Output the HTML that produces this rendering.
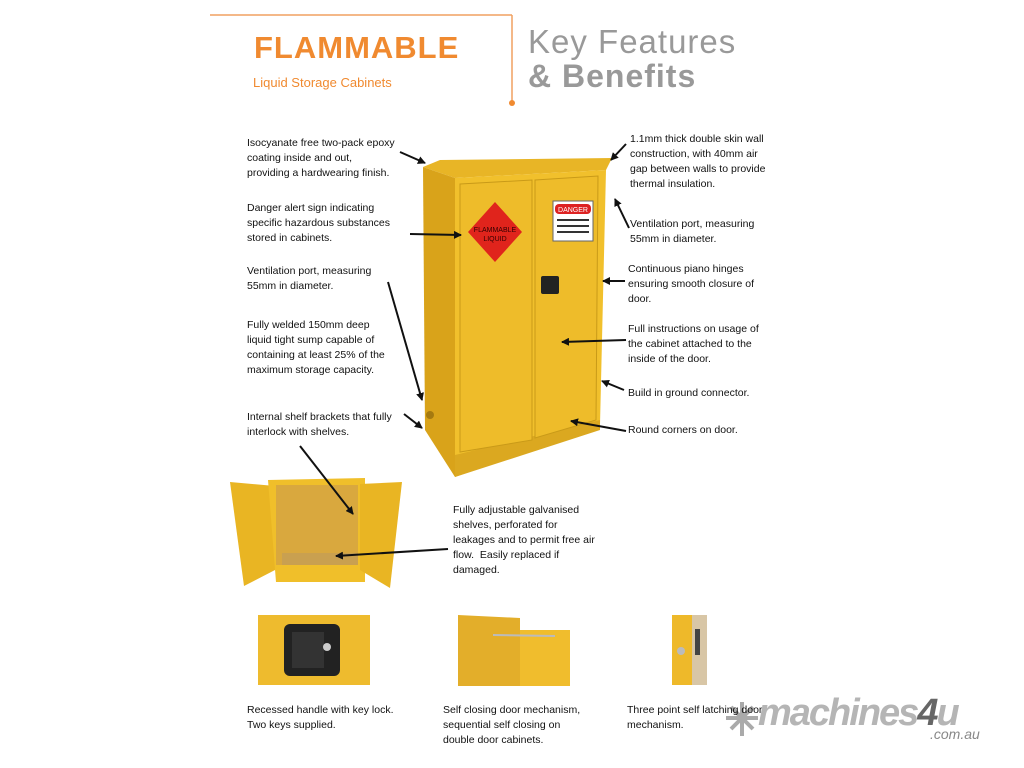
<!DOCTYPE html>
<html><head><meta charset="utf-8"><style>
body{margin:0;width:1024px;height:768px;background:#fff;position:relative;overflow:hidden;font-family:"Liberation Sans",sans-serif}
.t{position:absolute;font-size:10.5px;line-height:15px;color:#111;white-space:nowrap}
</style></head><body>
<svg width="1024" height="768" style="position:absolute;left:0;top:0">
<defs><marker id="a" markerWidth="8" markerHeight="8" refX="7" refY="4" orient="auto" markerUnits="userSpaceOnUse"><path d="M0,0 L8,4 L0,8 z" fill="#111"/></marker></defs>
<line x1="210" y1="15" x2="512" y2="15" stroke="#f0a060" stroke-width="1.5"/>
<line x1="512" y1="15" x2="512" y2="102" stroke="#f0a060" stroke-width="1.5"/>
<circle cx="512" cy="103" r="3" fill="#f08a30"/>
<polygon points="423,167 440,160 612,158 606,170 455,178" fill="#e8b526"/>
<polygon points="423,167 455,178 455,477 425,430" fill="#d9a31a"/>
<polygon points="455,178 606,170 600,425 455,477" fill="#f1c02c"/>
<polygon points="455,455 600,420 600,430 455,477" fill="#dba820"/>
<polygon points="460,184 532,180 532,440 460,452" fill="#eebc2a" stroke="#c99a18" stroke-width="1"/>
<polygon points="535,180 598,176 596,420 535,438" fill="#eebc2a" stroke="#c99a18" stroke-width="1"/>
<circle cx="430" cy="415" r="4" fill="#a57a10"/>
<polygon points="495,202 522,232 495,262 468,232" fill="#e0241c"/>
<text x="495" y="232" font-size="7" text-anchor="middle" fill="#300" font-family="Liberation Sans">FLAMMABLE</text>
<text x="495" y="241" font-size="7" text-anchor="middle" fill="#300" font-family="Liberation Sans">LIQUID</text>
<rect x="553" y="201" width="40" height="40" fill="#fff" stroke="#666"/>
<rect x="555" y="204" width="36" height="10" rx="4" fill="#d22"/>
<text x="573" y="212" font-size="7" fill="#fff" text-anchor="middle" font-family="Liberation Sans">DANGER</text>
<rect x="557" y="219" width="32" height="2" fill="#333"/><rect x="557" y="225" width="32" height="2" fill="#333"/><rect x="557" y="231" width="32" height="2" fill="#333"/>
<rect x="541" y="276" width="18" height="18" rx="2" fill="#222"/>
<polygon points="230,482 275,486 275,570 244,586" fill="#e9b523"/>
<polygon points="268,480 365,478 365,582 276,582" fill="#f0bf2a"/>
<rect x="276" y="485" width="82" height="80" fill="#d9a83e"/>
<rect x="282" y="553" width="76" height="12" fill="#c9a050"/>
<polygon points="360,484 402,482 390,588 360,570" fill="#e9b523"/>
<rect x="258" y="615" width="112" height="70" fill="#eebb2e"/>
<rect x="284" y="624" width="56" height="52" rx="6" fill="#222"/>
<rect x="292" y="632" width="32" height="36" fill="#333"/>
<circle cx="327" cy="647" r="4" fill="#ccc"/>
<polygon points="458,615 520,618 520,686 458,686" fill="#e3ae2a"/>
<rect x="520" y="630" width="50" height="56" fill="#f0bd2d"/>
<line x1="493" y1="635" x2="555" y2="636" stroke="#bbb" stroke-width="2"/>
<rect x="672" y="615" width="20" height="70" fill="#eeb92a"/>
<rect x="692" y="615" width="15" height="70" fill="#d8c6a6"/>
<rect x="695" y="629" width="5" height="26" fill="#444"/>
<circle cx="681" cy="651" r="4" fill="#bbb"/>
<g stroke="#111" stroke-width="2" fill="none" marker-end="url(#a)">
<line x1="400" y1="152" x2="425" y2="163"/>
<line x1="410" y1="234" x2="461" y2="235"/>
<line x1="388" y1="282" x2="422" y2="400"/>
<line x1="404" y1="414" x2="422" y2="428"/>
<line x1="626" y1="144" x2="611" y2="160"/>
<line x1="629" y1="228" x2="615" y2="199"/>
<line x1="625" y1="281" x2="603" y2="281"/>
<line x1="626" y1="340" x2="562" y2="342"/>
<line x1="624" y1="390" x2="602" y2="381"/>
<line x1="626" y1="431" x2="571" y2="421"/>
<line x1="300" y1="446" x2="353" y2="514"/>
<line x1="448" y1="549" x2="336" y2="556"/>
</g>
<g stroke="#aaa" stroke-width="4"><line x1="726" y1="718" x2="758" y2="718"/><line x1="742" y1="702" x2="742" y2="736"/><line x1="731" y1="707" x2="753" y2="729"/><line x1="753" y1="707" x2="731" y2="729"/></g>
</svg>
<div style="position:absolute;left:254px;top:30px;font-size:31px;font-weight:bold;color:#f08a30;letter-spacing:1px">FLAMMABLE</div>
<div style="position:absolute;left:253px;top:75px;font-size:13px;color:#f08a30">Liquid Storage Cabinets</div>
<div style="position:absolute;left:528px;top:23px;font-size:33px;color:#999;letter-spacing:1px">Key Features</div>
<div style="position:absolute;left:528px;top:58px;font-size:32px;font-weight:bold;color:#999;letter-spacing:1px">&amp; Benefits</div>
<div class="t" style="left:247px;top:136px">Isocyanate free two-pack epoxy<br>coating inside and out,<br>providing a hardwearing finish.</div>
<div class="t" style="left:247px;top:201px">Danger alert sign indicating<br>specific hazardous substances<br>stored in cabinets.</div>
<div class="t" style="left:247px;top:264px">Ventilation port, measuring<br>55mm in diameter.</div>
<div class="t" style="left:247px;top:318px">Fully welded 150mm deep<br>liquid tight sump capable of<br>containing at least 25% of the<br>maximum storage capacity.</div>
<div class="t" style="left:247px;top:410px">Internal shelf brackets that fully<br>interlock with shelves.</div>
<div class="t" style="left:630px;top:132px">1.1mm thick double skin wall<br>construction, with 40mm air<br>gap between walls to provide<br>thermal insulation.</div>
<div class="t" style="left:630px;top:217px">Ventilation port, measuring<br>55mm in diameter.</div>
<div class="t" style="left:628px;top:262px">Continuous piano hinges<br>ensuring smooth closure of<br>door.</div>
<div class="t" style="left:628px;top:322px">Full instructions on usage of<br>the cabinet attached to the<br>inside of the door.</div>
<div class="t" style="left:628px;top:386px">Build in ground connector.</div>
<div class="t" style="left:628px;top:423px">Round corners on door.</div>
<div class="t" style="left:453px;top:503px">Fully adjustable galvanised<br>shelves, perforated for<br>leakages and to permit free air<br>flow.&nbsp; Easily replaced if<br>damaged.</div>
<div class="t" style="left:247px;top:703px">Recessed handle with key lock.<br>Two keys supplied.</div>
<div class="t" style="left:443px;top:703px">Self closing door mechanism,<br>sequential self closing on<br>double door cabinets.</div>
<div class="t" style="left:627px;top:703px">Three point self latching door<br>mechanism.</div>
<div style="position:absolute;left:758px;top:692px;font-size:38px;font-weight:bold;font-style:italic;color:#b5b5b5;letter-spacing:-2px">machines<span style="color:#666">4</span>u</div>
<div style="position:absolute;left:930px;top:726px;font-size:14px;font-style:italic;color:#888">.com.au</div>
</body></html>
